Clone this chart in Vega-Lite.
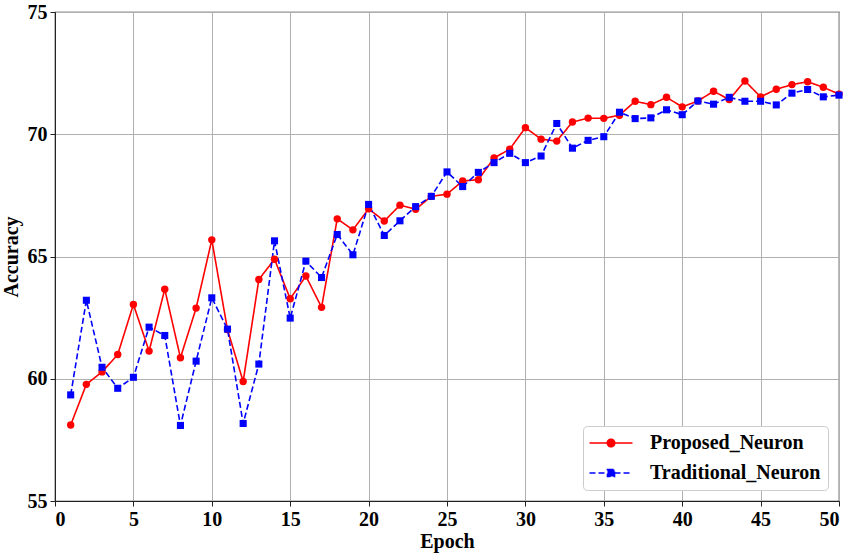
{
  "$schema": "https://vega.github.io/schema/vega-lite/v6.json",
  "width": 784,
  "height": 489,
  "autosize": {"type": "none"},
  "padding": {"left": 55, "top": 12, "right": 12, "bottom": 52},
  "background": "white",
  "config": {
    "font": "Liberation Serif",
    "view": {"stroke": "#222", "strokeWidth": 1.2},
    "axis": {
      "labelFont": "Liberation Serif", "labelFontWeight": "bold", "labelFontSize": 20, "labelColor": "black",
      "titleFont": "Liberation Serif", "titleFontWeight": "bold", "titleFontSize": 20, "titleColor": "black",
      "gridColor": "#b0b0b0", "gridWidth": 1, "domainColor": "#222", "tickColor": "#222", "tickSize": 5, "labelPadding": 3
    }
  },
  "data": {"values": [
    {"epoch":1,"acc":58.11,"model":"Proposed_Neuron"},{"epoch":2,"acc":59.77,"model":"Proposed_Neuron"},{"epoch":3,"acc":60.28,"model":"Proposed_Neuron"},{"epoch":4,"acc":60.99,"model":"Proposed_Neuron"},{"epoch":5,"acc":63.04,"model":"Proposed_Neuron"},
    {"epoch":6,"acc":61.13,"model":"Proposed_Neuron"},{"epoch":7,"acc":63.66,"model":"Proposed_Neuron"},{"epoch":8,"acc":60.86,"model":"Proposed_Neuron"},{"epoch":9,"acc":62.89,"model":"Proposed_Neuron"},{"epoch":10,"acc":65.68,"model":"Proposed_Neuron"},
    {"epoch":11,"acc":62.01,"model":"Proposed_Neuron"},{"epoch":12,"acc":59.89,"model":"Proposed_Neuron"},{"epoch":13,"acc":64.06,"model":"Proposed_Neuron"},{"epoch":14,"acc":64.89,"model":"Proposed_Neuron"},{"epoch":15,"acc":63.27,"model":"Proposed_Neuron"},
    {"epoch":16,"acc":64.20,"model":"Proposed_Neuron"},{"epoch":17,"acc":62.92,"model":"Proposed_Neuron"},{"epoch":18,"acc":66.54,"model":"Proposed_Neuron"},{"epoch":19,"acc":66.09,"model":"Proposed_Neuron"},{"epoch":20,"acc":66.95,"model":"Proposed_Neuron"},
    {"epoch":21,"acc":66.45,"model":"Proposed_Neuron"},{"epoch":22,"acc":67.10,"model":"Proposed_Neuron"},{"epoch":23,"acc":66.93,"model":"Proposed_Neuron"},{"epoch":24,"acc":67.46,"model":"Proposed_Neuron"},{"epoch":25,"acc":67.55,"model":"Proposed_Neuron"},
    {"epoch":26,"acc":68.09,"model":"Proposed_Neuron"},{"epoch":27,"acc":68.14,"model":"Proposed_Neuron"},{"epoch":28,"acc":69.03,"model":"Proposed_Neuron"},{"epoch":29,"acc":69.39,"model":"Proposed_Neuron"},{"epoch":30,"acc":70.27,"model":"Proposed_Neuron"},
    {"epoch":31,"acc":69.80,"model":"Proposed_Neuron"},{"epoch":32,"acc":69.72,"model":"Proposed_Neuron"},{"epoch":33,"acc":70.50,"model":"Proposed_Neuron"},{"epoch":34,"acc":70.66,"model":"Proposed_Neuron"},{"epoch":35,"acc":70.65,"model":"Proposed_Neuron"},
    {"epoch":36,"acc":70.78,"model":"Proposed_Neuron"},{"epoch":37,"acc":71.35,"model":"Proposed_Neuron"},{"epoch":38,"acc":71.21,"model":"Proposed_Neuron"},{"epoch":39,"acc":71.51,"model":"Proposed_Neuron"},{"epoch":40,"acc":71.12,"model":"Proposed_Neuron"},
    {"epoch":41,"acc":71.36,"model":"Proposed_Neuron"},{"epoch":42,"acc":71.76,"model":"Proposed_Neuron"},{"epoch":43,"acc":71.42,"model":"Proposed_Neuron"},{"epoch":44,"acc":72.18,"model":"Proposed_Neuron"},{"epoch":45,"acc":71.53,"model":"Proposed_Neuron"},
    {"epoch":46,"acc":71.84,"model":"Proposed_Neuron"},{"epoch":47,"acc":72.03,"model":"Proposed_Neuron"},{"epoch":48,"acc":72.15,"model":"Proposed_Neuron"},{"epoch":49,"acc":71.92,"model":"Proposed_Neuron"},{"epoch":50,"acc":71.64,"model":"Proposed_Neuron"},
    {"epoch":1,"acc":59.34,"model":"Traditional_Neuron"},{"epoch":2,"acc":63.21,"model":"Traditional_Neuron"},{"epoch":3,"acc":60.47,"model":"Traditional_Neuron"},{"epoch":4,"acc":59.61,"model":"Traditional_Neuron"},{"epoch":5,"acc":60.06,"model":"Traditional_Neuron"},
    {"epoch":6,"acc":62.11,"model":"Traditional_Neuron"},{"epoch":7,"acc":61.77,"model":"Traditional_Neuron"},{"epoch":8,"acc":58.09,"model":"Traditional_Neuron"},{"epoch":9,"acc":60.72,"model":"Traditional_Neuron"},{"epoch":10,"acc":63.31,"model":"Traditional_Neuron"},
    {"epoch":11,"acc":62.03,"model":"Traditional_Neuron"},{"epoch":12,"acc":58.17,"model":"Traditional_Neuron"},{"epoch":13,"acc":60.60,"model":"Traditional_Neuron"},{"epoch":14,"acc":65.64,"model":"Traditional_Neuron"},{"epoch":15,"acc":62.48,"model":"Traditional_Neuron"},
    {"epoch":16,"acc":64.81,"model":"Traditional_Neuron"},{"epoch":17,"acc":64.14,"model":"Traditional_Neuron"},{"epoch":18,"acc":65.90,"model":"Traditional_Neuron"},{"epoch":19,"acc":65.07,"model":"Traditional_Neuron"},{"epoch":20,"acc":67.13,"model":"Traditional_Neuron"},
    {"epoch":21,"acc":65.86,"model":"Traditional_Neuron"},{"epoch":22,"acc":66.46,"model":"Traditional_Neuron"},{"epoch":23,"acc":67.04,"model":"Traditional_Neuron"},{"epoch":24,"acc":67.46,"model":"Traditional_Neuron"},{"epoch":25,"acc":68.46,"model":"Traditional_Neuron"},
    {"epoch":26,"acc":67.86,"model":"Traditional_Neuron"},{"epoch":27,"acc":68.44,"model":"Traditional_Neuron"},{"epoch":28,"acc":68.84,"model":"Traditional_Neuron"},{"epoch":29,"acc":69.22,"model":"Traditional_Neuron"},{"epoch":30,"acc":68.84,"model":"Traditional_Neuron"},
    {"epoch":31,"acc":69.11,"model":"Traditional_Neuron"},{"epoch":32,"acc":70.44,"model":"Traditional_Neuron"},{"epoch":33,"acc":69.43,"model":"Traditional_Neuron"},{"epoch":34,"acc":69.75,"model":"Traditional_Neuron"},{"epoch":35,"acc":69.90,"model":"Traditional_Neuron"},
    {"epoch":36,"acc":70.90,"model":"Traditional_Neuron"},{"epoch":37,"acc":70.64,"model":"Traditional_Neuron"},{"epoch":38,"acc":70.67,"model":"Traditional_Neuron"},{"epoch":39,"acc":71.00,"model":"Traditional_Neuron"},{"epoch":40,"acc":70.80,"model":"Traditional_Neuron"},
    {"epoch":41,"acc":71.36,"model":"Traditional_Neuron"},{"epoch":42,"acc":71.23,"model":"Traditional_Neuron"},{"epoch":43,"acc":71.51,"model":"Traditional_Neuron"},{"epoch":44,"acc":71.35,"model":"Traditional_Neuron"},{"epoch":45,"acc":71.35,"model":"Traditional_Neuron"},
    {"epoch":46,"acc":71.20,"model":"Traditional_Neuron"},{"epoch":47,"acc":71.68,"model":"Traditional_Neuron"},{"epoch":48,"acc":71.83,"model":"Traditional_Neuron"},{"epoch":49,"acc":71.53,"model":"Traditional_Neuron"},{"epoch":50,"acc":71.60,"model":"Traditional_Neuron"}
  ]},
  "encoding": {
    "x": {"field": "epoch", "type": "quantitative", "title": "Epoch",
      "scale": {"domain": [0, 50], "nice": false},
      "axis": {"values": [0,5,10,15,20,25,30,35,40,45,50], "titlePadding": 2}},
    "y": {"field": "acc", "type": "quantitative", "title": "Accuracy",
      "scale": {"domain": [55, 75], "nice": false, "zero": false},
      "axis": {"values": [55,60,65,70,75], "titlePadding": 6}}
  },
  "layer": [
    {
      "mark": {"type": "line", "strokeWidth": 1.6},
      "encoding": {
        "strokeDash": {"field": "model", "type": "nominal",
          "scale": {"domain": ["Proposed_Neuron", "Traditional_Neuron"], "range": [[1, 0], [6, 3]]}, "legend": null},
        "color": {"field": "model", "type": "nominal",
          "scale": {"domain": ["Proposed_Neuron", "Traditional_Neuron"], "range": ["#ff0000", "#0000ff"]},
          "legend": {
            "title": null, "orient": "bottom-right", "offset": 11,
            "labelFont": "Liberation Serif", "labelFontWeight": "bold", "labelFontSize": 20, "labelColor": "black", "labelLimit": 400,
            "strokeColor": "#cccccc", "fillColor": "white", "cornerRadius": 4, "padding": 7,
            "symbolSize": 100, "symbolOffset": 11, "labelOffset": 29, "rowPadding": 10, "symbolStrokeWidth": 1.6,
            "encode": {
              "symbols": {"update": {
                "shape": {"signal": "datum.value === 'Proposed_Neuron' ? 'M-4.3,0L4.3,0M0.75,0A0.75,0.75,0,1,1,-0.75,0A0.75,0.75,0,1,1,0.75,0Z' : 'M-4.3,0L-0.7,0M0.7,0L4.3,0M-0.7,-0.7L0.7,-0.7L0.7,0.7L-0.7,0.7Z'"},
                "fill": {"signal": "datum.value === 'Proposed_Neuron' ? '#ff0000' : '#0000ff'"},
                "fillOpacity": {"value": 1},
                "stroke": {"signal": "datum.value === 'Proposed_Neuron' ? '#ff0000' : '#0000ff'"},
                "strokeDash": {"signal": "datum.value === 'Proposed_Neuron' ? [1,0] : [5,2.5]"}
              }}
            }
          }}
      }
    },
    {
      "transform": [{"filter": "datum.model === 'Proposed_Neuron'"}],
      "mark": {"type": "point", "shape": "circle", "filled": true, "opacity": 1, "size": 55, "color": "#ff0000"}
    },
    {
      "transform": [{"filter": "datum.model === 'Traditional_Neuron'"}],
      "mark": {"type": "point", "shape": "square", "filled": true, "opacity": 1, "size": 50, "color": "#0000ff"}
    }
  ]
}
